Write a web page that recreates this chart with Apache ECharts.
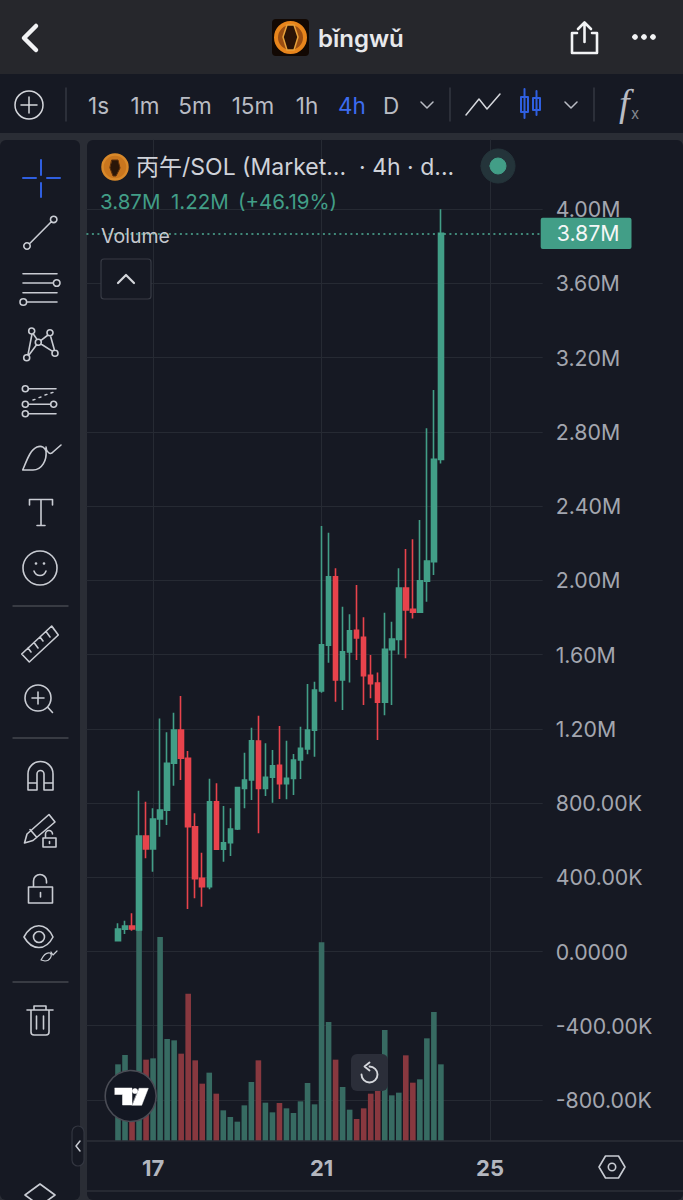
<!DOCTYPE html>
<html>
<head>
<meta charset="utf-8">
<title>丙午/SOL</title>
<style>
  html, body { margin: 0; padding: 0; background: #161923; }
  #chart { width: 683px; height: 1200px; }
</style>
<script src="https://cdn.jsdelivr.net/npm/echarts@6/dist/echarts.min.js"></script>
</head>
<body>
<div id="chart"></div>
<script>
// 4h candles, market cap in millions
var opens = [0.058, 0.120, 0.137, 0.116, 0.622, 0.552, 0.714, 0.762, 1.014, 1.193, 1.041, 0.672, 0.394, 0.349, 0.807, 0.551, 0.586, 0.660, 0.879, 0.924, 1.134, 0.879, 0.939, 1.003, 0.904, 0.933, 1.032, 1.091, 1.193, 1.404, 1.651, 2.019, 1.463, 1.614, 1.731, 1.693, 1.488, 1.447, 1.344, 1.626, 1.682, 1.959, 1.844, 1.828, 1.996, 2.100, 2.652];
var closes = [0.121, 0.137, 0.121, 0.622, 0.552, 0.714, 0.762, 1.014, 1.193, 1.041, 0.672, 0.392, 0.349, 0.807, 0.551, 0.586, 0.660, 0.883, 0.924, 1.136, 0.879, 0.939, 1.001, 0.904, 0.933, 1.032, 1.095, 1.193, 1.409, 1.653, 2.019, 1.463, 1.615, 1.728, 1.689, 1.486, 1.443, 1.344, 1.628, 1.684, 1.959, 1.840, 1.828, 1.998, 2.104, 2.652, 3.870];
var lows = [0.058, 0.094, 0.112, 0.110, 0.502, 0.430, 0.619, 0.682, 0.893, 0.924, 0.229, 0.287, 0.241, 0.335, 0.551, 0.484, 0.515, 0.655, 0.772, 0.816, 0.637, 0.838, 0.802, 0.822, 0.820, 0.843, 0.929, 1.063, 1.050, 1.394, 1.556, 1.346, 1.301, 1.450, 1.571, 1.328, 1.364, 1.140, 1.273, 1.328, 1.601, 1.580, 1.795, 1.825, 1.885, 2.029, 2.630];
var highs = [0.152, 0.166, 0.206, 0.866, 0.807, 0.772, 1.256, 1.181, 1.287, 1.377, 1.080, 0.745, 0.532, 0.931, 0.906, 0.784, 0.772, 0.888, 1.071, 1.206, 1.270, 1.122, 1.086, 1.215, 1.136, 1.064, 1.211, 1.441, 1.454, 2.293, 2.257, 2.065, 1.858, 1.817, 1.975, 1.801, 1.598, 1.504, 1.825, 1.777, 2.065, 2.169, 2.221, 2.325, 2.819, 3.025, 4.000];
var volumes = [230, 258, 122, 662, 244, 248, 612, 306, 302, 262, 442, 242, 172, 205, 142, 92, 72, 58, 107, 177, 242, 115, 86, 114, 98, 84, 119, 174, 110, 596, 357, 244, 162, 94, 66, 98, 142, 182, 333, 137, 145, 257, 175, 185, 308, 387, 230];

var priceTicks = [4, 3.6, 3.2, 2.8, 2.4, 2, 1.6, 1.2, 0.8, 0.4, 0, -0.4, -0.8];
var priceLabels = ["4.00M", "3.60M", "3.20M", "2.80M", "2.40M", "2.00M", "1.60M", "1.20M", "800.00K", "400.00K", "0.0000", "-400.00K", "-800.00K"];
var dayTicks = { 9: "17", 33: "21", 57: "25" }; // slot -> day of month
var slotCount = 65;
var leadSlots = 4; // empty slots before the first candle
var lastValue = 3.87;

var BG = "#161923";
var GREEN = "#429e87", RED = "#e8434c";
var VOL_GREEN = "#376b62", VOL_RED = "#88383f";
var ICON = "#c9ccd3", LABEL = "#a3a6af", BLUE = "#2f5fe0", TF = "#b9bcc4";
var FONT = 'Inter, "Noto Sans CJK SC", sans-serif';

var slots = [];
var candleData = [];
var volumeData = [];
for (var s = 0; s < slotCount; s++) slots.push(String(s));
for (var k = 0; k < leadSlots; k++) {
  candleData.push(["-", "-", "-", "-"]);
  volumeData.push("-");
}
opens.forEach(function (o, i) {
  candleData.push([o, closes[i], lows[i], highs[i]]);
  volumeData.push({
    value: volumes[i],
    itemStyle: { color: closes[i] >= o ? VOL_GREEN : VOL_RED }
  });
});

// drawing helpers for the app chrome around the chart
function box(x, y, w, h, fill, r, z, stroke) {
  return {
    type: "rect", z: z == null ? -10 : z, silent: true,
    shape: { x: x, y: y, width: w, height: h, r: r || 0 },
    style: { fill: fill, stroke: stroke || null, lineWidth: 1.2 }
  };
}
function txt(t, x, y, size, color, weight, align) {
  return {
    type: "text", z: 100, silent: true,
    style: {
      text: t, x: x, y: y, fill: color,
      font: (weight || 400) + " " + size + "px " + FONT,
      textAlign: align || "left", textVerticalAlign: "middle"
    }
  };
}
// the graphic component has no path type, so each icon gets its own shape class
var inkCount = 0;
function ink(d, color, width, fill) {
  var name = "ink" + inkCount++;
  echarts.graphic.registerShape(name, echarts.graphic.extendPath(d));
  return {
    type: name, z: 100, silent: true,
    shape: {},
    style: { stroke: color || ICON, lineWidth: width || 1.6, fill: fill || "none", lineCap: "round", lineJoin: "round" }
  };
}
function ring(cx, cy, r) {
  return "M" + (cx - r) + "," + cy + "A" + r + "," + r + " 0 1 1 " + (cx + r) + "," + cy + "A" + r + "," + r + " 0 1 1 " + (cx - r) + "," + cy + "Z";
}

var chrome = [
  // panels
  box(0, 0, 683, 74, "#26272c"),
  box(0, 74, 683, 59, BG),
  box(0, 140, 80, 1060, BG, 6),
  box(87, 140, 596, 1060, BG, 6),

  // top bar
  ink("M36,26L24,38L36,50", "#f2f3f5", 4.5),
  box(272, 19, 37, 37, "#120803", 4, 99),
  ink(ring(290.5, 37.5, 14.5), "#e8851c", 4, "#9a4d12"),
  ink("M287,25L294,25L298,37L294,50L287,50L283,37Z", "#e8a03a", 1.5, "#2a1206"),
  txt("bǐngwǔ", 318, 38, 24, "#e8e9ec", 600),
  ink("M577,33H572V53H597V33H592M584.5,42V23M578,29L584.5,22.5L591,29", "#f2f3f5", 2.6),
  ink(ring(635, 37, 2.4) + ring(644, 37, 2.4) + ring(653, 37, 2.4), "#f2f3f5", 1, "#f2f3f5"),

  // interval toolbar
  ink(ring(29, 105, 14), "#d5d7dc", 1.5),
  ink("M21,105H37M29,97V113", "#d5d7dc", 1.5),
  ink("M66,88V121M450,88V121M594,88V121", "#363943", 1.4),
  txt("1s", 98.5, 105, 22.5, TF, 400, "center"),
  txt("1m", 145, 105, 22.5, TF, 400, "center"),
  txt("5m", 195, 105, 22.5, TF, 400, "center"),
  txt("15m", 253, 105, 22.5, TF, 400, "center"),
  txt("1h", 307, 105, 22.5, TF, 400, "center"),
  txt("4h", 352, 105, 22.5, "#3d6cf0", 400, "center"),
  txt("D", 391, 105, 22.5, TF, 400, "center"),
  ink("M421,102L427,108L433,102M565,102L571,108L577,102", TF, 1.5),
  ink("M466,115L479,99L487,109L500,94", "#d5d7dc", 1.5),
  ink("M521,97H528V112H521ZM524.5,89V118M533,98H540V110H533ZM536.5,91V115", BLUE, 2),
  {
    type: "text", z: 100, silent: true,
    style: { text: "f", x: 619, y: 103, fill: TF, font: 'italic 400 38px "Liberation Serif"', textAlign: "left", textVerticalAlign: "middle" }
  },
  txt("x", 631, 113, 15, "#85888f", 400),

  // left tools: cursor, trend line, channels, pattern, fib, brush, text, emoji
  ink("M41,160V175M41,183V197M23,178H36M47,178H60", BLUE, 2),
  ink(ring(27, 246, 3.2) + ring(53.7, 219.4, 3.2) + "M29.5,243.7L51.3,221.8"),
  ink("M23,273.7H57M23,283H53.4M23,292.7H57M26.6,302H57" + ring(56.7, 283, 3.3) + ring(23.3, 302, 3.3)),
  ink(ring(31.7, 331, 3) + ring(50, 332.7, 3) + ring(38.3, 342.3, 3) + ring(26.7, 357.7, 3) + ring(55, 353.3, 3) + "M32,334L28,354.7M33,333.5L37,339.4M48,335L41,340.4M41,344L52.6,351.4M50.5,336L54.5,350.3M36.6,344.8L29,355"),
  ink(ring(25.3, 388.7, 3) + ring(25.3, 404.3, 3) + ring(53.7, 404.3, 3) + ring(25.3, 413.7, 3) + "M28.4,388.7H56M28.4,404.3H50.6M28.4,413.7H56"),
  ink("M33,400L35,399.4M39,397.6L41,397M45,395L47,394.4M51,393L53,392.4", ICON, 1.4),
  ink("M22.7,470C27,460 30,450 37,447C42,445 45,448 46,451C47,460 42,470 33,470ZM46,447C46,451 50,456 53,452L61,445"),
  ink("M29.5,505V499.5H52.5V505M41,499.5V525M37,525.5H45"),
  ink(ring(40, 568, 17) + "M34,571C36,577 44,577 46,571"),
  ink(ring(36, 563.5, 0.7) + ring(44, 563.5, 0.7), ICON, 1.3),
  ink("M13,606H68M13,738H68M13,982H68", "#44474f", 1.4),

  // ruler, zoom
  ink("M21.7,654L51.7,626L58.3,635L29.3,662ZM28,648L31,652M34,642.5L38,648M40,637L43,641M46,631.5L50,637M52,626.5L54.5,630"),
  ink(ring(38, 698, 13) + "M47.5,707L52.5,712.5M32,698H44M38,692V704"),

  // magnet, pencil lock, lock, eye, trash
  ink("M28,790V774A12.5,12.5 0 0 1 53,774V790H44V774A3.5,3.5 0 0 0 37,774V790ZM28,783H37M44,783H53"),
  ink("M27,834L24.5,843L33,840.5L55,822L49,814.5ZM30,829.5L36.5,837"),
  ink("M43,838H56V847H43ZM45.5,838V834A3.5,3.5 0 0 1 52.5,834M49.5,841.5V843.5"),
  ink("M28.5,887H52.5V903H28.5ZM33.5,887V881A6.5,6.5 0 0 1 46.5,881V883M40.5,892.5V897", ICON, 1.6),
  ink("M24,937C32,922 46,922 53,937C46,951 32,951 24,937Z" + ring(39, 937, 5.5)),
  ink("M41,960C43,956 46,952 50,953C53,955 50,961 45,961ZM51,952L53,955L57,951", ICON, 1.2),
  ink("M27,1010H53M31,1010V1032Q31,1035 34,1035H46Q49,1035 49,1032V1010M34,1010V1006H46V1010M36.5,1016V1029M43.5,1016V1029"),
  box(72, 1126, 12, 40, BG, 6, 99, "#333640"),
  ink("M80,1141L76,1146L80,1151", "#c9ccd3", 1.5),
  ink("M25,1195L40,1184L55,1195L40,1206Z"),

  // legend block
  ink(ring(115, 167, 12.5), "#d9892a", 2.5, "#c9761e"),
  ink("M112,160H118L120,168L116,176H113L110,168Z", "#5a2f0c", 1, "#2a1608"),
  txt("丙午/SOL (Market...  · 4h · d...", 136, 167, 23, "#cfd2d9", 400),
  ink(ring(498, 166, 17), "#24343a", 1, "#24343a"),
  ink(ring(498, 166, 8), GREEN, 1, GREEN),
  txt("3.87M", 100, 201, 20.5, GREEN, 400),
  txt("1.22M", 171, 201, 20.5, GREEN, 400),
  txt("(+46.19%)", 238, 201, 20.5, GREEN, 400),
  txt("Volume", 101, 236, 19.5, "#c5c8ce", 400),
  box(101, 259, 50, 40, BG, 3, 99, "#383b45"),
  ink("M118,283L126,275L134,283", "#d5d7dc", 2.2),

  // TradingView badge and reset button
  {
    type: "circle", z: 99, silent: true,
    shape: { cx: 130.7, cy: 1096, r: 25.5 },
    style: { fill: "#131722", stroke: "#4a4c55", lineWidth: 1.6 }
  },
  ink("M115,1088H132V1105H122.5V1094.5H115ZM139.3,1088.3H148.3L141.7,1105.3H132.3Z" + ring(135, 1091, 2.6), "#ffffff", 0.5, "#ffffff"),
  box(351, 1054, 37, 37, "#2b2e39", 6, 99),
  ink("M369.5,1066.5A8,8 0 1 1 361.5,1074.5M369.5,1062.5L364.5,1066.5L369.5,1070.5", "#d5d7dc", 1.9),

  // axis rules and settings icon
  ink("M87,1141H683M87,1191H683", "#2c2f38", 1.4),
  ink("M599,1167L605.5,1156H618.5L625,1167L618.5,1178H605.5Z" + ring(612, 1167, 3.7), "#c9ccd3", 1.6)
];

var myChart = echarts.init(document.getElementById("chart"), null, { renderer: "svg" });

var option = {
  animation: false,
  backgroundColor: "#2a2d35",
  graphic: { elements: chrome },
  grid: { left: 86.4, width: 456.3, top: 139, height: 1002 },
  xAxis: {
    type: "category",
    data: slots,
    boundaryGap: true,
    axisLine: { show: false },
    axisTick: { show: false },
    axisLabel: {
      interval: function (idx) { return dayTicks[idx] !== undefined; },
      formatter: function (v) { return dayTicks[v] || ""; },
      color: "#b4b7bf",
      fontFamily: FONT,
      fontSize: 22,
      fontWeight: 700,
      margin: 16
    },
    splitLine: {
      show: true,
      alignWithLabel: true,
      interval: function (idx) { return dayTicks[idx] !== undefined; },
      lineStyle: { color: "#262a33", width: 1 }
    }
  },
  yAxis: [
    {
      type: "value",
      min: -1.021,
      max: 4.378,
      position: "right",
      axisLine: { show: false },
      axisTick: { show: false, customValues: priceTicks },
      axisLabel: {
        customValues: priceTicks,
        formatter: function (v) {
          var i = priceTicks.indexOf(v);
          return i >= 0 ? priceLabels[i] : "";
        },
        color: LABEL,
        fontFamily: FONT,
        fontSize: 21.3,
        margin: 13,
        align: "left"
      },
      splitLine: { show: true, lineStyle: { color: "#262a33", width: 1 } }
    },
    {
      type: "value",
      min: 0,
      max: 3006,
      show: false,
      splitLine: { show: false }
    }
  ],
  series: [
    {
      name: "Volume",
      type: "bar",
      yAxisIndex: 1,
      barWidth: 5.6,
      z: 1,
      data: volumeData
    },
    {
      name: "丙午/SOL",
      type: "candlestick",
      barWidth: 5,
      z: 2,
      itemStyle: {
        color: GREEN,
        color0: RED,
        borderColor: GREEN,
        borderColor0: RED,
        borderWidth: 1.6
      },
      data: candleData,
      markLine: {
        silent: true,
        symbol: "none",
        animation: false,
        lineStyle: { color: "#4fae96", type: [2, 3.5], width: 1.6 },
        label: {
          position: "end",
          distance: -2,
          formatter: "3.87M",
          color: "#f4f6f6",
          fontFamily: FONT,
          fontSize: 21.3,
          backgroundColor: GREEN,
          borderRadius: 2,
          padding: [5, 12, 5, 16]
        },
        data: [{ yAxis: lastValue }]
      }
    }
  ]
};

myChart.setOption(option);
</script>
</body>
</html>
